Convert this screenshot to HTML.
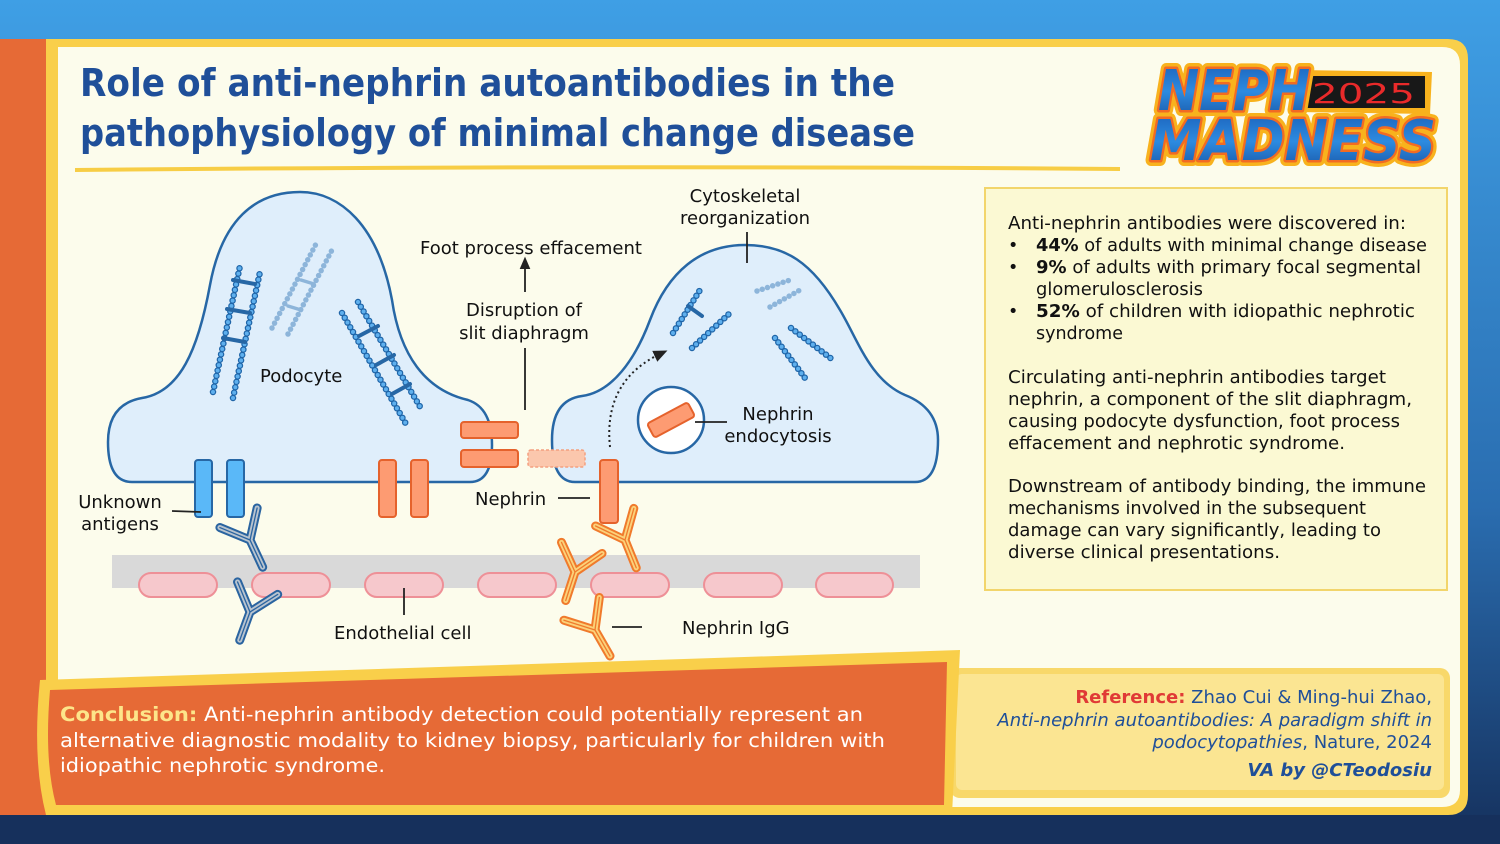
<!DOCTYPE html>
<html><head><meta charset="utf-8">
<style>
html,body{margin:0;padding:0;width:1500px;height:844px;overflow:hidden}
svg{display:block}
text{font-family:"DejaVu Sans","Liberation Sans",sans-serif}
</style></head>
<body>
<svg width="1500" height="844" viewBox="0 0 1500 844" xmlns="http://www.w3.org/2000/svg">
<defs>
<linearGradient id="bg" x1="0" y1="0" x2="0" y2="1">
<stop offset="0" stop-color="#3f9fe5"/><stop offset="0.6" stop-color="#2a6db0"/><stop offset="1" stop-color="#15305c"/>
</linearGradient>
<linearGradient id="lg" x1="0" y1="0" x2="0" y2="1">
<stop offset="0" stop-color="#1a5fb8"/><stop offset="0.5" stop-color="#2d8be0"/><stop offset="1" stop-color="#164f9e"/>
</linearGradient>
<g id="abB">
<g fill="none" stroke-linecap="round">
<path d="M0,0 L0,30 M0,0 L-22,-24 M0,0 L20,-26" stroke="#2a64a0" stroke-width="9"/>
<path d="M0,0 L0,30 M0,0 L-22,-24 M0,0 L20,-26" stroke="#b9c4cf" stroke-width="5"/>
<path d="M0,0 L0,30 M0,0 L-22,-24 M0,0 L20,-26" stroke="#2a64a0" stroke-width="1.3"/>
</g></g>
<g id="abO">
<g fill="none" stroke-linecap="round">
<path d="M0,0 L0,30 M0,0 L-22,-24 M0,0 L20,-26" stroke="#f07a2c" stroke-width="9"/>
<path d="M0,0 L0,30 M0,0 L-22,-24 M0,0 L20,-26" stroke="#fbd27a" stroke-width="5"/>
<path d="M0,0 L0,30 M0,0 L-22,-24 M0,0 L20,-26" stroke="#f07a2c" stroke-width="1.3"/>
</g></g>
<marker id="ar" markerWidth="8" markerHeight="8" refX="4" refY="4" orient="auto"><path d="M0,1 L7,4 L0,7 Z" fill="#222"/></marker>
</defs>
<rect width="1500" height="844" fill="url(#bg)"/>
<rect x="0" y="815" width="1500" height="29" fill="#16305c"/>
<rect x="0" y="39" width="46" height="776" fill="#e66a36"/>
<path d="M46,39 H1448 Q1468,39 1468,59 V795 Q1468,815 1448,815 H46 Z" fill="#f9cf4a"/>
<path d="M58,47 H1442 Q1460,47 1460,65 V790 Q1460,807 1442,807 H58 Z" fill="#fcfcec"/>

<!-- title -->
<text x="80" y="96" font-size="38" font-weight="bold" fill="#1f4f99" textLength="815" lengthAdjust="spacingAndGlyphs">Role of anti-nephrin autoantibodies in the</text>
<text x="80" y="146" font-size="38" font-weight="bold" fill="#1f4f99" textLength="835" lengthAdjust="spacingAndGlyphs">pathophysiology of minimal change disease</text>
<path d="M75,170 Q600,165 1120,169" stroke="#f7cd45" stroke-width="4" fill="none"/>

<!-- logo -->
<path d="M1298,70 L1432,72 L1430,114 L1296,112 Z" fill="#f8b21d"/>
<rect x="1303" y="76" width="122" height="32" fill="#181818"/>
<text x="1312" y="103" font-size="28" fill="#e92a2a" font-family="Liberation Mono,monospace" textLength="103" lengthAdjust="spacingAndGlyphs">2025</text>
<g font-weight="bold" font-style="italic" font-family="Liberation Sans,sans-serif">
<text x="1158" y="110" font-size="56" fill="none" stroke="#f8b21d" stroke-width="12" stroke-linejoin="round" textLength="152" lengthAdjust="spacingAndGlyphs">NEPH</text>
<text x="1158" y="110" font-size="56" fill="none" stroke="#f26b22" stroke-width="5" stroke-linejoin="round" textLength="152" lengthAdjust="spacingAndGlyphs">NEPH</text>
<text x="1158" y="110" font-size="56" fill="url(#lg)" textLength="152" lengthAdjust="spacingAndGlyphs">NEPH</text>
<text x="1150" y="160" font-size="56" fill="none" stroke="#f8b21d" stroke-width="12" stroke-linejoin="round" textLength="286" lengthAdjust="spacingAndGlyphs">MADNESS</text>
<text x="1150" y="160" font-size="56" fill="none" stroke="#f26b22" stroke-width="5" stroke-linejoin="round" textLength="286" lengthAdjust="spacingAndGlyphs">MADNESS</text>
<text x="1150" y="160" font-size="56" fill="url(#lg)" textLength="286" lengthAdjust="spacingAndGlyphs">MADNESS</text>
</g>

<!-- right text box -->
<rect x="985" y="188" width="462" height="402" fill="#fbf9d3" stroke="#f2d56b" stroke-width="2"/>
<g font-size="17.5" fill="#111">
<text x="1008" y="229" textLength="398" lengthAdjust="spacingAndGlyphs">Anti-nephrin antibodies were discovered in:</text>
<text x="1008" y="251">•</text><text x="1036" y="251" textLength="391" lengthAdjust="spacingAndGlyphs"><tspan font-weight="bold">44%</tspan> of adults with minimal change disease</text>
<text x="1008" y="273">•</text><text x="1036" y="273" textLength="385" lengthAdjust="spacingAndGlyphs"><tspan font-weight="bold">9%</tspan> of adults with primary focal segmental</text>
<text x="1036" y="295" textLength="167" lengthAdjust="spacingAndGlyphs">glomerulosclerosis</text>
<text x="1008" y="317">•</text><text x="1036" y="317" textLength="379" lengthAdjust="spacingAndGlyphs"><tspan font-weight="bold">52%</tspan> of children with idiopathic nephrotic</text>
<text x="1036" y="339" textLength="87" lengthAdjust="spacingAndGlyphs">syndrome</text>
<text x="1008" y="383" textLength="378" lengthAdjust="spacingAndGlyphs">Circulating anti-nephrin antibodies target</text>
<text x="1008" y="405" textLength="404" lengthAdjust="spacingAndGlyphs">nephrin, a component of the slit diaphragm,</text>
<text x="1008" y="427" textLength="392" lengthAdjust="spacingAndGlyphs">causing podocyte dysfunction, foot process</text>
<text x="1008" y="449" textLength="337" lengthAdjust="spacingAndGlyphs">effacement and nephrotic syndrome.</text>
<text x="1008" y="492" textLength="418" lengthAdjust="spacingAndGlyphs">Downstream of antibody binding, the immune</text>
<text x="1008" y="514" textLength="358" lengthAdjust="spacingAndGlyphs">mechanisms involved in the subsequent</text>
<text x="1008" y="536" textLength="373" lengthAdjust="spacingAndGlyphs">damage can vary significantly, leading to</text>
<text x="1008" y="558" textLength="272" lengthAdjust="spacingAndGlyphs">diverse clinical presentations.</text>
</g>

<!-- membrane & endothelial -->
<rect x="112" y="555" width="808" height="33" fill="#d9d9d9"/>
<g fill="#f6c8cc" stroke="#ee9097" stroke-width="2">
<rect x="139" y="573" width="78" height="24" rx="12"/>
<rect x="252" y="573" width="78" height="24" rx="12"/>
<rect x="365" y="573" width="78" height="24" rx="12"/>
<rect x="478" y="573" width="78" height="24" rx="12"/>
<rect x="591" y="573" width="78" height="24" rx="12"/>
<rect x="704" y="573" width="78" height="24" rx="12"/>
<rect x="816" y="573" width="77" height="24" rx="12"/>
</g>

<!-- cells -->
<path d="M132,482 L470,482 Q492,482 492,445 Q492,408 468,400 C425,390 400,355 392,300 C378,225 340,192 300,192 C255,192 222,220 210,285 C198,350 180,392 142,398 Q108,404 108,442 Q108,482 132,482 Z" fill="#dfeefb" stroke="#2767a5" stroke-width="2.5"/>
<path d="M575,482 L915,482 Q938,482 938,440 Q938,408 905,395 C870,380 858,340 840,310 C812,262 785,245 745,245 C700,245 668,272 650,320 C635,360 612,392 582,396 Q552,400 552,440 Q552,482 575,482 Z" fill="#dfeefb" stroke="#2767a5" stroke-width="2.5"/>

<!-- microtubules -->
<g fill="none" stroke-linecap="round" stroke-dasharray="0 5.5">
<g stroke="#1f65a8" stroke-width="6.5">
<path d="M213,392 L240,266 M233,398 L260,272 M342,313 L406,424 M358,302 L422,410 M673,333 L700,290 M692,348 L730,313 M775,338 L805,378 M791,328 L833,360"/>
</g>
<g stroke="#5fb0ee" stroke-width="4">
<path d="M213,392 L240,266 M233,398 L260,272 M342,313 L406,424 M358,302 L422,410 M673,333 L700,290 M692,348 L730,313 M775,338 L805,378 M791,328 L833,360"/>
</g>
<g stroke="#8db5da" stroke-width="5.5">
<path d="M272,328 L316,244 M288,334 L332,250 M757,291 L790,280 M770,307 L800,290"/>
</g>
</g>
<g stroke="#2767a5" stroke-width="4" stroke-linecap="round">
<path d="M223,338 L245,342 M227,309 L250,313 M233,280 L255,284 M359,336 L378,326 M376,365 L394,355 M392,394 L410,384 M688,306 L702,316"/>
</g>
<g stroke="#8db5da" stroke-width="3.5" stroke-linecap="round"><path d="M288,306 L301,310 M301,280 L314,284"/></g>

<!-- antigens and nephrin -->
<g fill="#5ab8f8" stroke="#2767a5" stroke-width="2">
<rect x="195" y="460" width="17" height="57" rx="3"/><rect x="227" y="460" width="17" height="57" rx="3"/>
</g>
<g fill="#fd9b72" stroke="#e5622c" stroke-width="2">
<rect x="379" y="460" width="17" height="57" rx="3"/><rect x="411" y="460" width="17" height="57" rx="3"/>
<rect x="461" y="422" width="57" height="16" rx="3"/><rect x="461" y="450" width="57" height="17" rx="3"/>
<rect x="600" y="460" width="18" height="63" rx="3"/>
</g>
<rect x="528" y="450" width="57" height="17" rx="3" fill="#fbc7ad" stroke="#f4a080" stroke-width="1.5" stroke-dasharray="3 2"/>

<!-- vesicle -->
<circle cx="671" cy="420" r="33" fill="#fff" stroke="#2767a5" stroke-width="2.5"/>
<rect x="648" y="412" width="46" height="16" rx="3" fill="#fd9b72" stroke="#e5622c" stroke-width="2" transform="rotate(-28 671 420)"/>
<path d="M610,447 C605,400 625,370 662,353" fill="none" stroke="#222" stroke-width="2" stroke-dasharray="2 3" marker-end="url(#ar)"/>

<!-- antibodies -->
<use href="#abB" transform="translate(250,540) rotate(-25)"/>
<use href="#abB" transform="translate(250,612) rotate(20)"/>
<use href="#abO" transform="translate(625,540) rotate(-22)"/>
<use href="#abO" transform="translate(575,572) rotate(18)"/>
<use href="#abO" transform="translate(595,630) rotate(-30)"/>

<!-- connectors -->
<g stroke="#222" stroke-width="1.8" fill="none">
<path d="M525,292 L525,262" marker-end="url(#ar)"/>
<path d="M525,348 L525,410"/>
<path d="M747,232 L747,263"/>
<path d="M172,511 L201,512"/>
<path d="M558,498 L590,498"/>
<path d="M695,422 L727,422"/>
<path d="M404,588 L404,615"/>
<path d="M612,627 L642,627"/>
</g>

<!-- labels -->
<g font-size="18" fill="#111">
<text x="260" y="382">Podocyte</text>
<text x="420" y="254">Foot process effacement</text>
<text x="524" y="316" text-anchor="middle">Disruption of</text>
<text x="524" y="339" text-anchor="middle">slit diaphragm</text>
<text x="745" y="202" text-anchor="middle">Cytoskeletal</text>
<text x="745" y="224" text-anchor="middle">reorganization</text>
<text x="778" y="420" text-anchor="middle">Nephrin</text>
<text x="778" y="442" text-anchor="middle">endocytosis</text>
<text x="120" y="508" text-anchor="middle">Unknown</text>
<text x="120" y="530" text-anchor="middle">antigens</text>
<text x="475" y="505">Nephrin</text>
<text x="334" y="639">Endothelial cell</text>
<text x="682" y="634">Nephrin IgG</text>
</g>

<!-- reference box -->
<rect x="950" y="668" width="500" height="130" rx="10" fill="#f8d86a"/>
<rect x="956" y="674" width="488" height="116" rx="6" fill="#fbe592"/>
<g font-size="18" fill="#1f4f99" text-anchor="end">
<text x="1432" y="703"><tspan fill="#e03a36" font-weight="bold">Reference:</tspan> Zhao Cui &amp; Ming-hui Zhao,</text>
<text x="1432" y="726" font-style="italic">Anti-nephrin autoantibodies: A paradigm shift in</text>
<text x="1432" y="748"><tspan font-style="italic">podocytopathies</tspan>, Nature, 2024</text>
<text x="1432" y="776" font-style="italic" font-weight="bold">VA by @CTeodosiu</text>
</g>

<!-- conclusion -->
<path d="M40,680 L960,650 L952,815 L46,815 Q32,760 40,680 Z" fill="#f9cf4a"/>
<path d="M50,690 L947,662 L944,805 L56,805 Q44,760 50,690 Z" fill="#e66a36"/>
<g font-size="19.5" fill="#fff">
<text x="60" y="721" textLength="803" lengthAdjust="spacingAndGlyphs"><tspan fill="#fde58a" font-weight="bold">Conclusion:</tspan> Anti-nephrin antibody detection could potentially represent an</text>
<text x="60" y="747" textLength="825" lengthAdjust="spacingAndGlyphs">alternative diagnostic modality to kidney biopsy, particularly for children with</text>
<text x="60" y="772" textLength="325" lengthAdjust="spacingAndGlyphs">idiopathic nephrotic syndrome.</text>
</g>
</svg>
</body></html>
